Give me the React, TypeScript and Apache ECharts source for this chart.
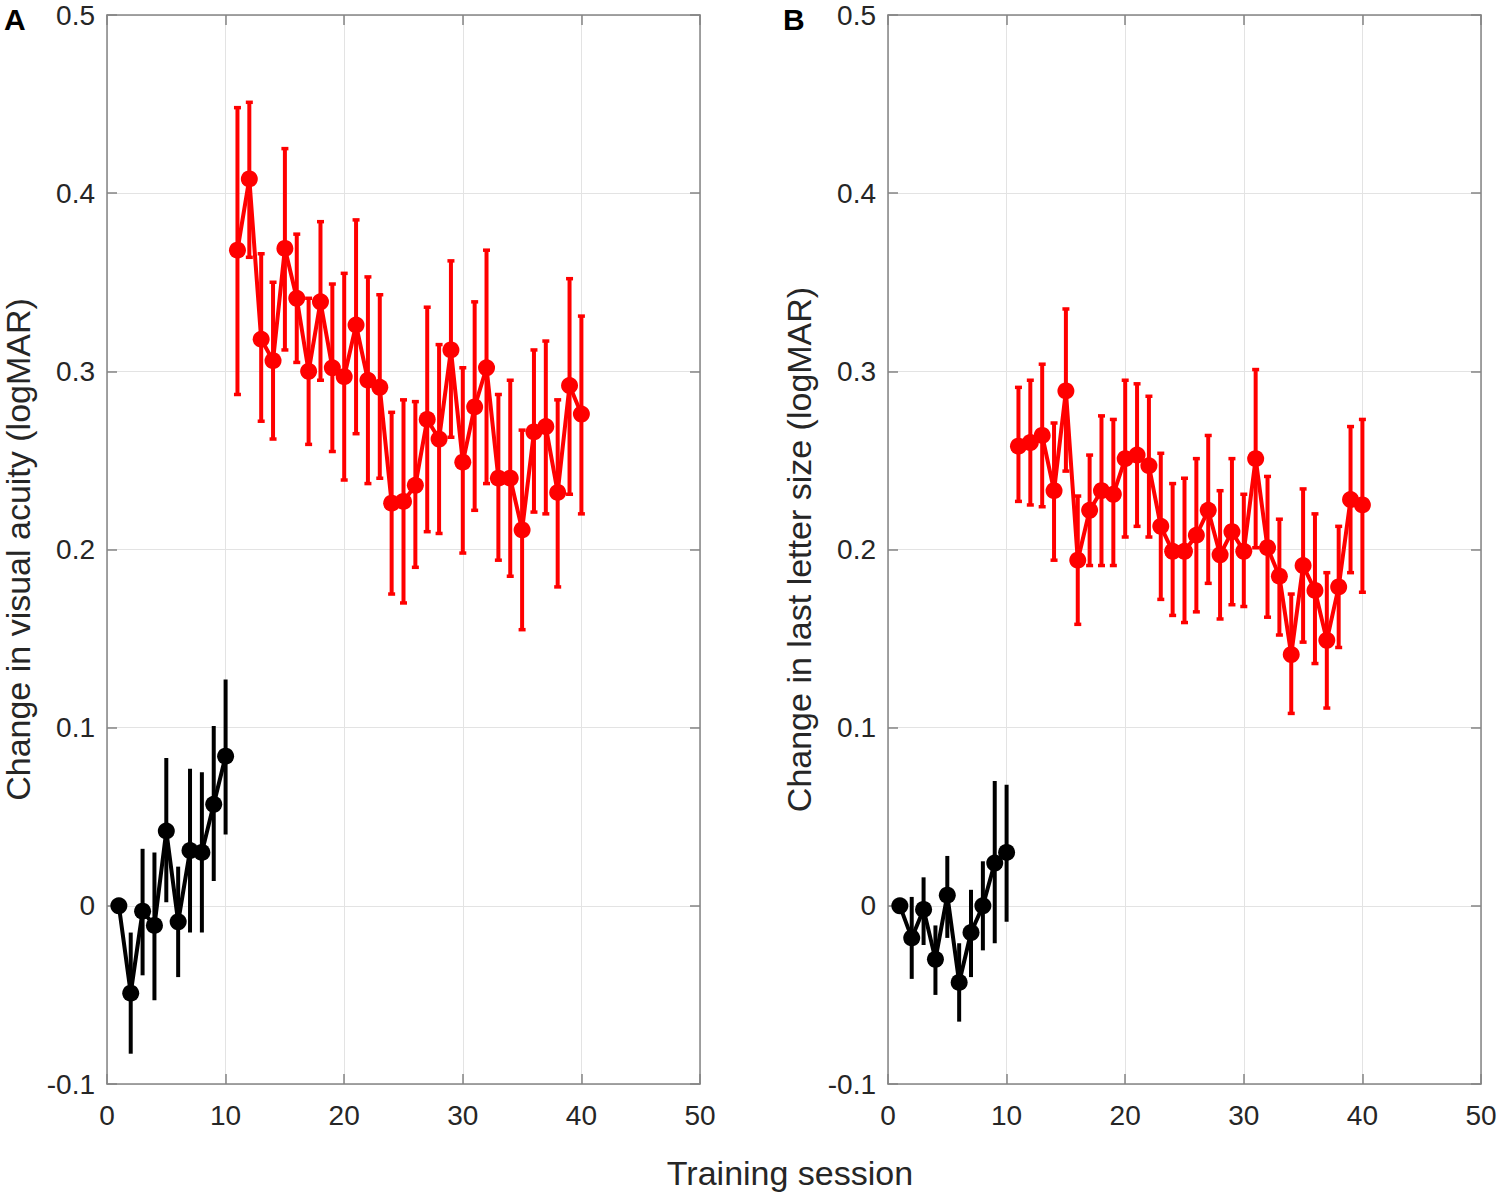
import React, { useEffect, useRef } from "react";
import * as echarts from "echarts";

// ---------- data ----------
const baselineSessions = [1, 2, 3, 4, 5, 6, 7, 8, 9, 10];
const trainingSessions = [
  11, 12, 13, 14, 15, 16, 17, 18, 19, 20, 21, 22, 23, 24, 25, 26, 27, 28, 29, 30,
  31, 32, 33, 34, 35, 36, 37, 38, 39, 40,
];

// Panel A: change in visual acuity (logMAR)
const acuityBaseMean = [0, -0.049, -0.003, -0.011, 0.042, -0.009, 0.031, 0.030, 0.057, 0.084];
const acuityBaseLow = [0, -0.083, -0.039, -0.053, 0.002, -0.040, -0.015, -0.015, 0.014, 0.040];
const acuityBaseHigh = [0, -0.015, 0.032, 0.030, 0.083, 0.022, 0.077, 0.075, 0.101, 0.127];

const acuityTrainMean = [
  0.368, 0.408, 0.318, 0.306, 0.369, 0.341, 0.300, 0.339, 0.302, 0.297,
  0.326, 0.295, 0.291, 0.226, 0.227, 0.236, 0.273, 0.262, 0.312, 0.249,
  0.280, 0.302, 0.240, 0.240, 0.211, 0.266, 0.269, 0.232, 0.292, 0.276,
];
const acuityTrainHigh = [
  0.448, 0.451, 0.366, 0.350, 0.425, 0.377, 0.341, 0.384, 0.349, 0.355,
  0.385, 0.353, 0.343, 0.277, 0.284, 0.283, 0.336, 0.315, 0.362, 0.302,
  0.339, 0.368, 0.287, 0.295, 0.267, 0.312, 0.317, 0.284, 0.352, 0.331,
];
const acuityTrainLow = [
  0.287, 0.364, 0.272, 0.262, 0.312, 0.305, 0.259, 0.295, 0.255, 0.239,
  0.265, 0.237, 0.240, 0.175, 0.170, 0.190, 0.210, 0.209, 0.263, 0.198,
  0.222, 0.237, 0.194, 0.185, 0.155, 0.221, 0.220, 0.179, 0.231, 0.220,
];

// Panel B: change in last letter size (logMAR)
const letterBaseMean = [0, -0.018, -0.002, -0.030, 0.006, -0.043, -0.015, 0.000, 0.024, 0.030];
const letterBaseLow = [0, -0.041, -0.022, -0.050, -0.018, -0.065, -0.040, -0.025, -0.021, -0.009];
const letterBaseHigh = [0, 0.005, 0.016, -0.011, 0.028, -0.021, 0.009, 0.025, 0.070, 0.068];

const letterTrainMean = [
  0.258, 0.260, 0.264, 0.233, 0.289, 0.194, 0.222, 0.233, 0.231, 0.251,
  0.253, 0.247, 0.213, 0.199, 0.199, 0.208, 0.222, 0.197, 0.210, 0.199,
  0.251, 0.201, 0.185, 0.141, 0.191, 0.177, 0.149, 0.179, 0.228, 0.225,
];
const letterTrainHigh = [
  0.291, 0.295, 0.304, 0.271, 0.335, 0.230, 0.253, 0.275, 0.273, 0.295,
  0.293, 0.286, 0.254, 0.237, 0.240, 0.251, 0.264, 0.233, 0.251, 0.231,
  0.301, 0.241, 0.217, 0.175, 0.234, 0.220, 0.187, 0.213, 0.269, 0.273,
];
const letterTrainLow = [
  0.227, 0.225, 0.224, 0.194, 0.244, 0.158, 0.191, 0.191, 0.191, 0.207,
  0.213, 0.207, 0.172, 0.163, 0.159, 0.165, 0.181, 0.161, 0.169, 0.168,
  0.201, 0.162, 0.152, 0.108, 0.148, 0.136, 0.111, 0.145, 0.187, 0.176,
];

const panelLabels = ["A", "B"];
const yTitles = ["Change in visual acuity (logMAR)", "Change in last letter size (logMAR)"];
const xTitle = "Training session";

// ---------- styling ----------
const FONT = '"Liberation Sans", Arial, Helvetica, sans-serif';
const AXIS_COLOR = "#858585";
const TEXT_COLOR = "#262626";
const GRID_COLOR = "#e3e3e3";
const RED = "#ff0000";
const BLACK = "#000000";

const grids = [
  { left: 107, top: 15, width: 593, height: 1069 },
  { left: 888, top: 15, width: 593, height: 1069 },
];

function errorSeries(xs: number[], lo: number[], hi: number[], color: string, cap: number, axis: number) {
  return {
    type: "custom",
    xAxisIndex: axis,
    yAxisIndex: axis,
    z: 3,
    silent: true,
    data: xs.map((x, i) => [x, lo[i], hi[i]]),
    encode: { x: 0, y: [1, 2] },
    renderItem: (_params: any, api: any) => {
      const x = api.value(0);
      const a = api.coord([x, api.value(1)]);
      const b = api.coord([x, api.value(2)]);
      const style = { stroke: color, lineWidth: 4 };
      const children: any[] = [
        { type: "line", shape: { x1: a[0], y1: a[1], x2: b[0], y2: b[1] }, style },
      ];
      if (cap > 0 && Math.abs(a[1] - b[1]) > 0.5) {
        children.push({
          type: "line",
          shape: { x1: a[0] - cap, y1: a[1], x2: a[0] + cap, y2: a[1] },
          style: { stroke: color, lineWidth: 3.5 },
        });
        children.push({
          type: "line",
          shape: { x1: b[0] - cap, y1: b[1], x2: b[0] + cap, y2: b[1] },
          style: { stroke: color, lineWidth: 3.5 },
        });
      }
      return { type: "group", children };
    },
  };
}

function lineSeries(xs: number[], ys: number[], color: string, axis: number) {
  return {
    type: "line",
    xAxisIndex: axis,
    yAxisIndex: axis,
    z: 4,
    silent: true,
    data: xs.map((x, i) => [x, ys[i]]),
    symbol: "circle",
    symbolSize: 17,
    showSymbol: true,
    itemStyle: { color },
    lineStyle: { color, width: 4 },
  };
}

function buildOption() {
  const xAxes: any[] = [];
  const yAxes: any[] = [];
  const line = { show: true, onZero: false, lineStyle: { color: AXIS_COLOR, width: 1.5 } };
  const tick = { show: true, inside: true, length: 10, lineStyle: { color: AXIS_COLOR, width: 1.5 } };
  grids.forEach((_, gi) => {
    xAxes.push({
      type: "value",
      gridIndex: gi,
      position: "bottom",
      min: 0,
      max: 50,
      interval: 10,
      axisLine: line,
      axisTick: tick,
      axisLabel: { show: true, color: TEXT_COLOR, fontSize: 28, fontFamily: FONT, margin: 17 },
      splitLine: { show: true, lineStyle: { color: GRID_COLOR, width: 1 } },
    });
    xAxes.push({
      type: "value",
      gridIndex: gi,
      position: "top",
      min: 0,
      max: 50,
      interval: 10,
      axisLine: line,
      axisTick: tick,
      axisLabel: { show: false },
      splitLine: { show: false },
    });
    yAxes.push({
      type: "value",
      gridIndex: gi,
      position: "left",
      min: -0.1,
      max: 0.5,
      interval: 0.1,
      name: yTitles[gi],
      nameLocation: "middle",
      nameGap: 72,
      nameTextStyle: { color: TEXT_COLOR, fontSize: 34, fontFamily: FONT },
      axisLine: line,
      axisTick: tick,
      axisLabel: {
        show: true,
        color: TEXT_COLOR,
        fontSize: 28,
        fontFamily: FONT,
        margin: 12,
        formatter: (v: number) => String(Math.round(v * 10) / 10),
      },
      splitLine: { show: true, lineStyle: { color: GRID_COLOR, width: 1 } },
    });
    yAxes.push({
      type: "value",
      gridIndex: gi,
      position: "right",
      min: -0.1,
      max: 0.5,
      interval: 0.1,
      axisLine: line,
      axisTick: tick,
      axisLabel: { show: false },
      splitLine: { show: false },
    });
  });

  // axis index 0 = panel A (bottom x / left y), index 2 = panel B
  const series: any[] = [
    errorSeries(baselineSessions, acuityBaseLow, acuityBaseHigh, BLACK, 0, 0),
    lineSeries(baselineSessions, acuityBaseMean, BLACK, 0),
    errorSeries(trainingSessions, acuityTrainLow, acuityTrainHigh, RED, 3.5, 0),
    lineSeries(trainingSessions, acuityTrainMean, RED, 0),
    errorSeries(baselineSessions, letterBaseLow, letterBaseHigh, BLACK, 0, 2),
    lineSeries(baselineSessions, letterBaseMean, BLACK, 2),
    errorSeries(trainingSessions, letterTrainLow, letterTrainHigh, RED, 3.5, 2),
    lineSeries(trainingSessions, letterTrainMean, RED, 2),
  ];

  return {
    animation: false,
    backgroundColor: "#ffffff",
    textStyle: { fontFamily: FONT },
    grid: grids.map((g) => ({ ...g, containLabel: false })),
    xAxis: xAxes,
    yAxis: yAxes,
    series,
    graphic: [
      {
        type: "text",
        left: 4,
        top: 4,
        style: { text: panelLabels[0], font: `bold 30px ${FONT}`, fill: "#000" },
      },
      {
        type: "text",
        left: 783,
        top: 4,
        style: { text: panelLabels[1], font: `bold 30px ${FONT}`, fill: "#000" },
      },
      {
        type: "text",
        x: 790,
        y: 1173,
        style: {
          text: xTitle,
          font: `34px ${FONT}`,
          fill: TEXT_COLOR,
          textAlign: "center",
          textVerticalAlign: "middle",
        },
      },
    ],
  };
}

export default function App() {
  const ref = useRef<HTMLDivElement>(null);
  useEffect(() => {
    if (!ref.current) return;
    const chart = echarts.init(ref.current, undefined, { renderer: "svg" });
    chart.setOption(buildOption() as any);
    return () => chart.dispose();
  }, []);
  return (
    <div
      ref={ref}
      style={{ position: "fixed", left: 0, top: 0, width: 1500, height: 1195, background: "#fff" }}
    />
  );
}
